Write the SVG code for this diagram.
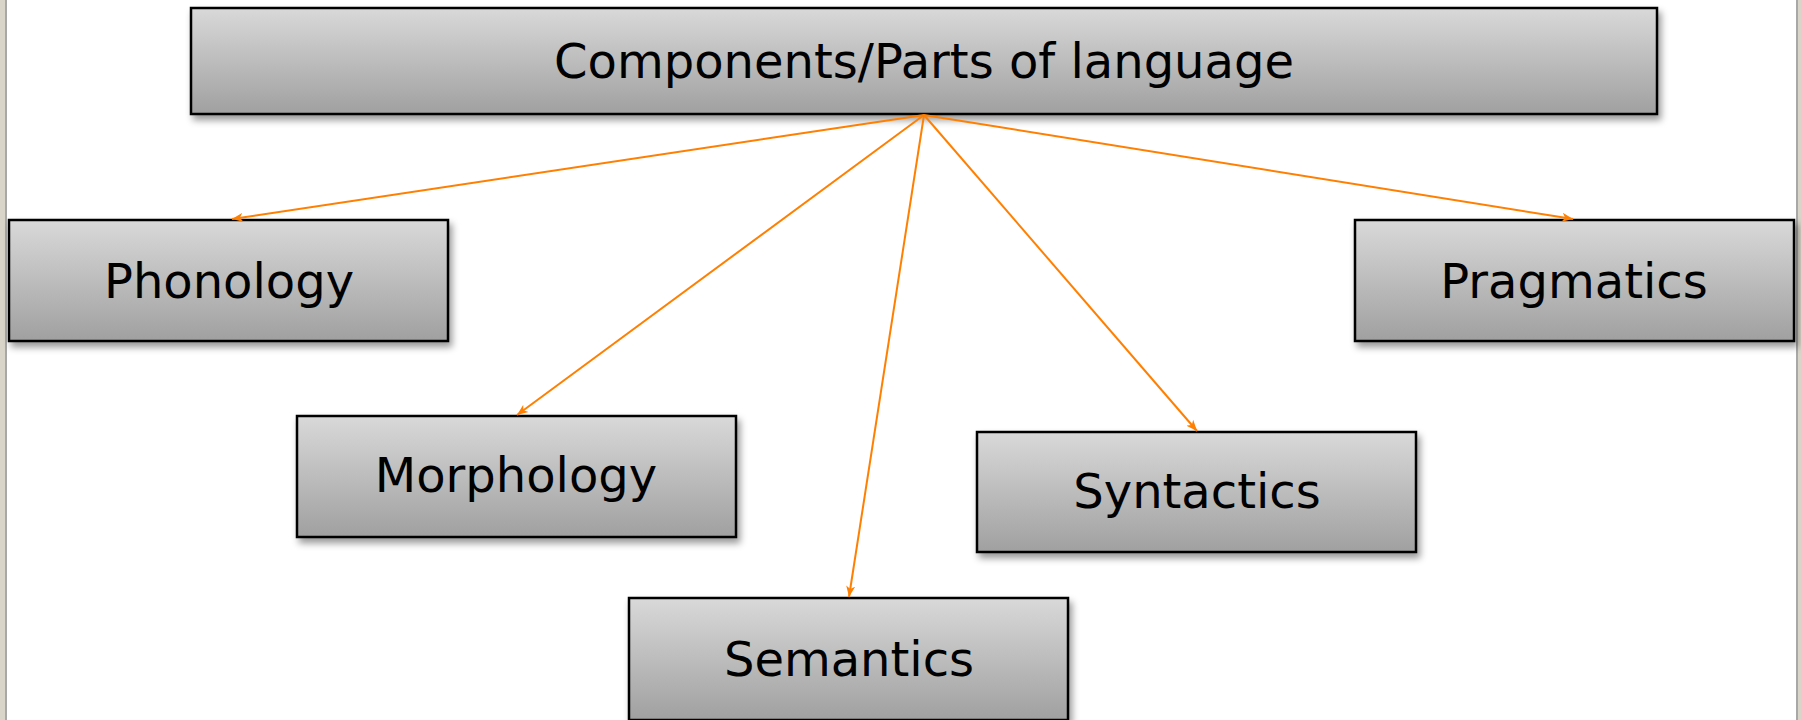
<svg xmlns="http://www.w3.org/2000/svg" width="1801" height="720" viewBox="0 0 1801 720">
<style>
.box{fill:url(#g);stroke:#000;stroke-width:2.5;filter:url(#sh)}
.lbl{font-family:"DejaVu Sans",Verdana,sans-serif;font-size:48px;fill:#000;text-anchor:middle}
.con{stroke:#ff7f00;stroke-width:2;fill:none;marker-end:url(#ah)}
</style>
<defs>
<linearGradient id="g" x1="0" y1="0" x2="0" y2="1">
<stop offset="0" stop-color="#d9d9d9"/>
<stop offset="1" stop-color="#a0a0a0"/>
</linearGradient>
<filter id="sh" x="-10%" y="-20%" width="120%" height="150%">
<feDropShadow dx="3" dy="5" stdDeviation="3.5" flood-color="#000" flood-opacity="0.4"/>
</filter>
<marker id="ah" markerWidth="12" markerHeight="10" refX="11" refY="5" orient="auto" markerUnits="userSpaceOnUse">
<path d="M0,0.5 L11,5 L0,9.5 L3,5 Z" fill="#ff7f00"/>
</marker>
</defs>
<rect x="0" y="0" width="1801" height="720" fill="#fff"/>
<rect x="0" y="0" width="5" height="720" fill="#d9d5c9"/>
<rect x="5" y="0" width="2" height="720" fill="#a8a8a8"/>
<rect x="1796" y="0" width="2" height="720" fill="#a8a8a8"/>
<rect x="1798" y="0" width="3" height="720" fill="#d9d5c9"/>
<g id="top">
<rect class="box" x="191" y="8" width="1466" height="106"/>
<text class="lbl" x="924" y="78">Components/Parts of language</text>
</g>
<g id="phonology">
<rect class="box" x="9" y="220" width="439" height="121"/>
<text class="lbl" x="229" y="298">Phonology</text>
</g>
<g id="pragmatics">
<rect class="box" x="1355" y="220" width="439" height="121"/>
<text class="lbl" x="1574" y="298">Pragmatics</text>
</g>
<g id="morphology">
<rect class="box" x="297" y="416" width="439" height="121"/>
<text class="lbl" x="516" y="492">Morphology</text>
</g>
<g id="syntactics">
<rect class="box" x="977" y="432" width="439" height="120"/>
<text class="lbl" x="1197" y="508">Syntactics</text>
</g>
<g id="semantics">
<rect class="box" x="629" y="598" width="439" height="122"/>
<text class="lbl" x="849" y="676">Semantics</text>
</g>
<g id="connectors">
<line class="con" x1="924" y1="115" x2="232" y2="219"/>
<line class="con" x1="924" y1="115" x2="1573" y2="219"/>
<line class="con" x1="924" y1="115" x2="517" y2="415"/>
<line class="con" x1="924" y1="115" x2="849" y2="597"/>
<line class="con" x1="924" y1="115" x2="1197" y2="431"/>
</g>
</svg>
